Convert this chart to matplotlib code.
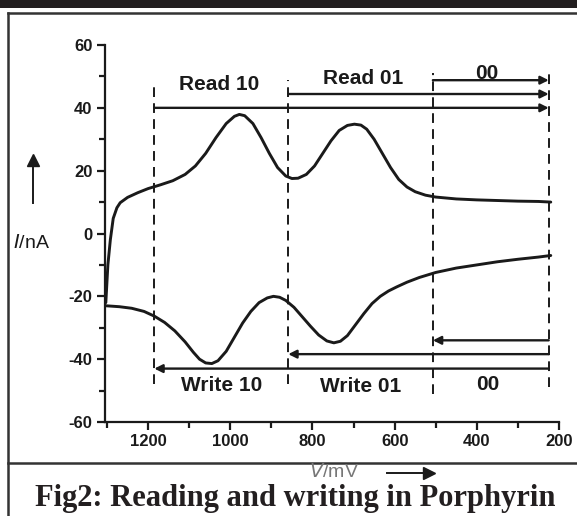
import matplotlib
matplotlib.use('Agg')
import matplotlib.pyplot as plt
from matplotlib.lines import Line2D
from matplotlib.patches import Rectangle
from matplotlib.ticker import MultipleLocator

plt.rcParams['axes.unicode_minus'] = False

# oxidation sweep (read) -- potential in mV, current in nA
read_v = [1303, 1298, 1292, 1285, 1276, 1268, 1250, 1225, 1200, 1170, 1140, 1110, 1085,
          1060, 1035, 1010, 990, 978, 965, 945, 925, 905, 885, 865, 850, 835, 815, 795,
          775, 755, 735, 715, 698, 682, 668, 650, 630, 610, 590, 570, 550, 525, 500,
          450, 400, 350, 300, 250, 220]
read_i = [-22, -10, -2, 4.8, 8.2, 9.8, 11.5, 13.0, 14.3, 15.5, 16.8, 18.8, 21.5,
          25.5, 30.5, 35.0, 37.3, 37.9, 37.5, 35.0, 30.5, 25.5, 21.0, 18.3, 17.5, 17.6, 18.8, 21.5,
          25.5, 29.5, 32.8, 34.4, 34.8, 34.5, 33.2, 30.0, 25.5, 21.0, 17.2, 14.8, 13.3, 12.2, 11.6,
          11.0, 10.7, 10.5, 10.3, 10.2, 10.0]

# reduction sweep (write)
write_v = [1303, 1270, 1240, 1210, 1185, 1160, 1135, 1110, 1090, 1075, 1060, 1045, 1030,
           1010, 990, 970, 950, 930, 910, 895, 880, 865, 845, 825, 805, 785, 765, 748,
           732, 715, 695, 675, 655, 635, 615, 595, 570, 540, 500, 450, 400, 350, 300, 250, 220]
write_i = [-23.0, -23.3, -23.8, -24.8, -26.3, -28.3, -31.0, -34.5, -37.8, -40.0, -41.2, -41.4, -40.5,
           -37.5, -33.0, -28.5, -24.8, -22.0, -20.5, -20.0, -20.3, -21.3, -23.5, -26.5, -29.5, -32.3, -34.2, -34.8,
           -34.3, -32.5, -29.0, -25.5, -22.3, -20.0, -18.3, -17.0, -15.5, -14.0, -12.4, -11.0, -10.0, -9.0, -8.2, -7.5, -7.0]

# region boundaries (mV) and their dashed extents (nA)
bound_v = [1185, 859, 507, 225]
bound_top = [48, 49, 51, 51]
bound_bot = [-48, -48, -51, -49]

# sweep arrows: start potential, current level
read_start = [1185, 859, 507]
read_level = [40, 44.4, 48.8]
write_end = [1185, 859, 507]
write_level = [-43, -38.4, -34]
arrow_stop = 225

read_labels = ['Read 10', 'Read 01', '00']
read_lab_v = [1027, 676, 375]
read_lab_i = [47.3, 49.3, 50.8]
write_labels = ['Write 10', 'Write 01', '00']
write_lab_v = [1022, 683, 373]
write_lab_i = [-48.4, -48.6, -48.0]

ink = '#1a1a1a'
fig = plt.figure(figsize=(5.77, 5.16), dpi=100)

# page furniture: dark band, frame, caption
fig.add_artist(Rectangle((0, 1 - 8/516), 1, 8/516, transform=fig.transFigure,
                         color='#231f20', lw=0))
fig.add_artist(Line2D([8/577, 1], [1 - 13/516] * 2, transform=fig.transFigure,
                      color='#333333', lw=1.8))
fig.add_artist(Line2D([8/577, 8/577], [0, 1 - 13/516], transform=fig.transFigure,
                      color='#333333', lw=1.8))
fig.add_artist(Line2D([8/577, 1], [1 - 463/516] * 2, transform=fig.transFigure,
                      color='#333333', lw=1.8))
fig.text(295/577, 1 - 506/516, 'Fig2: Reading and writing in Porphyrin',
         ha='center', va='baseline', fontsize=22, fontweight='bold',
         family='Liberation Serif', color='#231f20')

ax = fig.add_axes([105/577, 1 - 422/516, 454/577, 377/516])
ax.plot(read_v, read_i, color=ink, lw=2.1, solid_capstyle='round')
ax.plot(write_v, write_i, color=ink, lw=2.1, solid_capstyle='round')

for v, t, b in zip(bound_v, bound_top, bound_bot):
    ax.plot([v, v], [b, t], color=ink, lw=1.4, ls=(0, (5, 3.2)))

for v, lvl in zip(read_start, read_level):
    ax.annotate('', xy=(arrow_stop, lvl), xytext=(v, lvl),
                arrowprops=dict(arrowstyle='-|>', color=ink, lw=1.7,
                                mutation_scale=12, shrinkA=0, shrinkB=0))
for v, lvl in zip(write_end, write_level):
    ax.annotate('', xy=(v, lvl), xytext=(arrow_stop, lvl),
                arrowprops=dict(arrowstyle='-|>', color=ink, lw=1.7,
                                mutation_scale=12, shrinkA=0, shrinkB=0))

for s, v, i in zip(read_labels, read_lab_v, read_lab_i):
    ax.text(v, i, s, ha='center', va='center', fontsize=15, fontweight='bold',
            family='Liberation Sans', color=ink)
for s, v, i in zip(write_labels, write_lab_v, write_lab_i):
    ax.text(v, i, s, ha='center', va='center', fontsize=15, fontweight='bold',
            family='Liberation Sans', color=ink)

ax.set_xlim(1305, 200)
ax.set_ylim(-60, 60)
ax.xaxis.set_major_locator(MultipleLocator(200))
ax.xaxis.set_minor_locator(MultipleLocator(100))
ax.yaxis.set_major_locator(MultipleLocator(20))
ax.yaxis.set_minor_locator(MultipleLocator(10))
ax.set_xticks([1200, 1000, 800, 600, 400, 200])
ax.set_yticks([-60, -40, -20, 0, 20, 40, 60])
for side in ['top', 'right']:
    ax.spines[side].set_visible(False)
for side in ['left', 'bottom']:
    ax.spines[side].set_linewidth(1.6)
    ax.spines[side].set_color(ink)
ax.tick_params(which='major', length=6, width=1.6, color=ink, pad=3)
ax.tick_params(which='minor', length=4, width=1.6, color=ink)
for lab in ax.get_xticklabels() + ax.get_yticklabels():
    lab.set_fontweight('bold')
    lab.set_fontsize(12)
    lab.set_family('Liberation Sans')
    lab.set_color(ink)

# axis titles with direction arrows
fig.text(13/577, 1 - 243/516, r'$I$/nA', ha='left', va='center', fontsize=14,
         family='Liberation Sans', color=ink)
fig.add_artist(Line2D([33/577, 33/577], [1 - 203/516, 1 - 168/516],
                      transform=fig.transFigure, color=ink, lw=1.4))
fig.add_artist(Line2D([33/577], [1 - 160/516], marker='^', ms=9,
                      transform=fig.transFigure, color=ink, lw=0))
fig.text(334/577, 1 - 472/516, r'$V$/mV', ha='center', va='center', fontsize=14,
         family='Liberation Sans', color='#777777')
fig.add_artist(Line2D([387/577, 424/577], [1 - 473/516] * 2,
                      transform=fig.transFigure, color=ink, lw=1.4))
fig.add_artist(Line2D([429/577], [1 - 473/516], marker='>', ms=9,
                      transform=fig.transFigure, color=ink, lw=0))

fig.savefig('out.png', dpi=100)
